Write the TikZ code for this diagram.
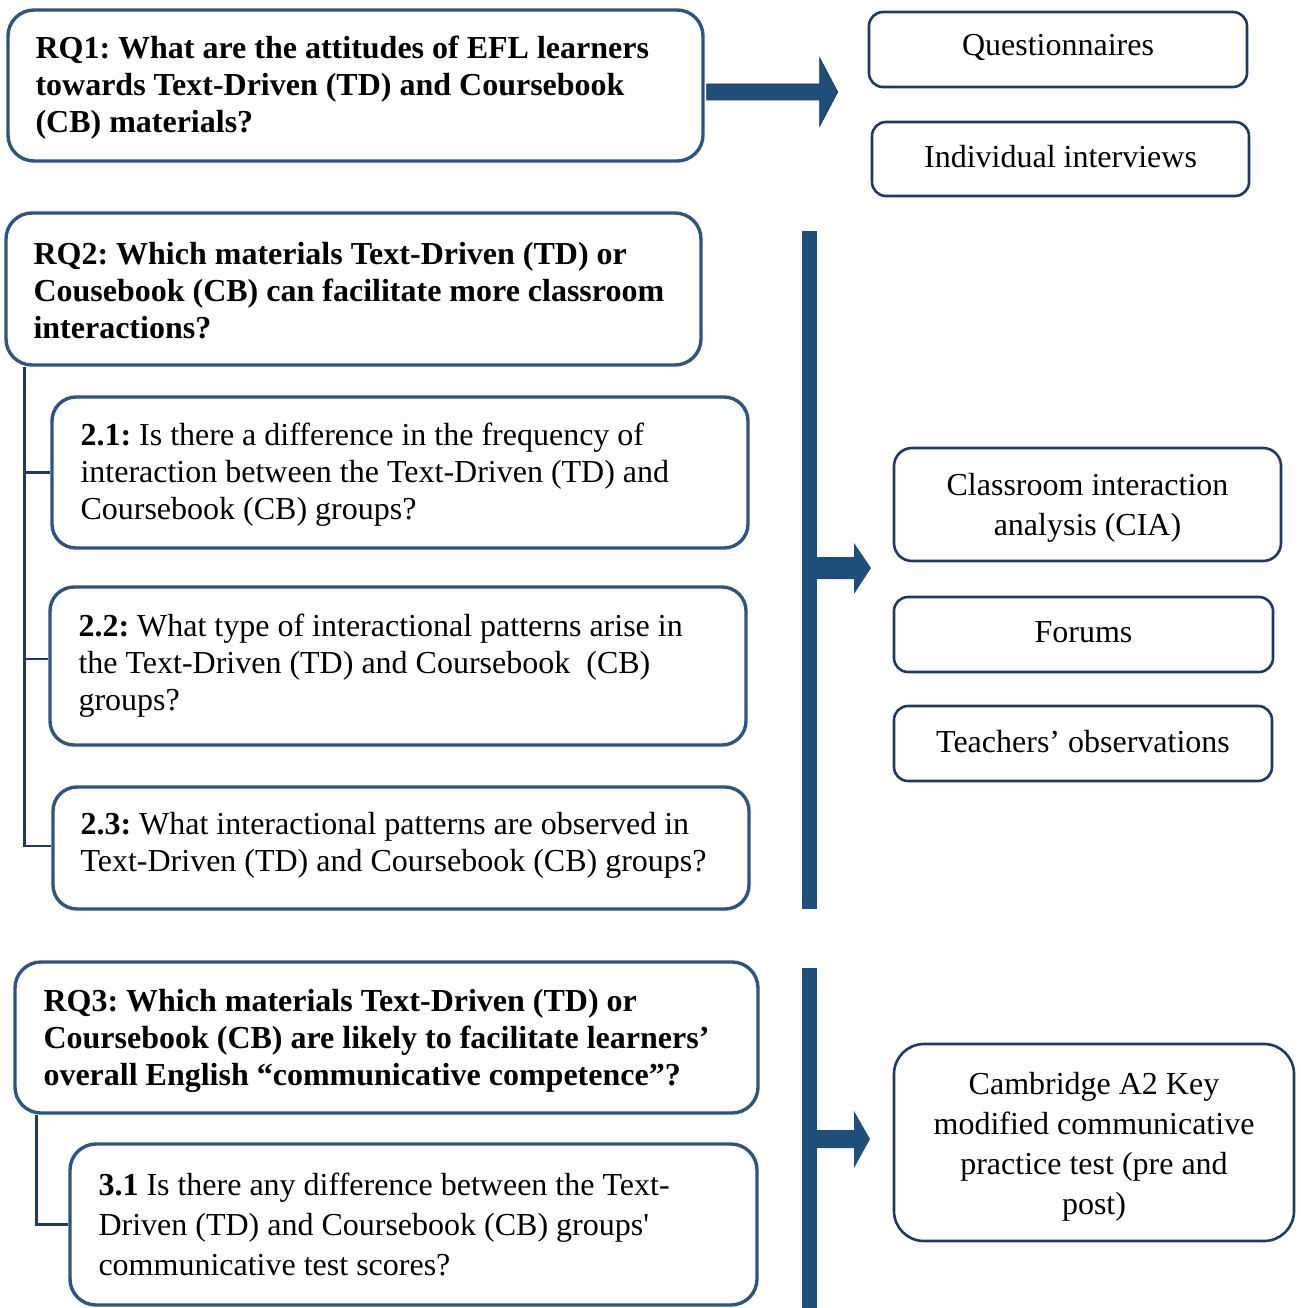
\documentclass[tikz,border=0pt]{standalone}
\usepackage{fontspec}
\setmainfont{Liberation Serif}
\usetikzlibrary{calc}
\frenchspacing
\definecolor{boxline}{RGB}{46,84,130}
\definecolor{thinline}{RGB}{32,56,100}
\definecolor{arrowfill}{RGB}{31,78,121}
\definecolor{arrowedge}{RGB}{26,58,96}
\tikzset{
  qbox/.style={draw=boxline, line width=3.4pt, rounded corners=26pt, inner sep=0pt},
  mbox/.style={draw=thinline, line width=2.6pt, rounded corners=14pt, inner sep=0pt},
  mtext/.style={inner sep=0pt, font=\fontsize{32}{40}\selectfont, align=center},
  qtext/.style={anchor=west, inner sep=0pt, align=left, font=\fontsize{32}{37}\selectfont},
  tree/.style={draw=thinline, line width=2.6pt},
  bigarrow/.style={fill=arrowfill, draw=arrowedge, line width=0.8pt},
  bar/.style={fill=arrowfill},
}
\begin{document}
\begin{tikzpicture}[x=1pt,y=-1pt]
\useasboundingbox (0,0) rectangle (1300,1308);

% research question boxes
\node[qbox, minimum width=695pt, minimum height=151pt] (rq1) at (355.5,85.5) {};
\node[qtext] (rq1t) at ($(rq1.west)+(29,2.5)$) {\bfseries RQ1: What are the attitudes of EFL learners\\\bfseries towards Text-Driven (TD) and Coursebook\\\bfseries (CB) materials?};

\node[qbox, minimum width=695pt, minimum height=152pt] (rq2) at (353.5,289) {};
\node[qtext] (rq2t) at ($(rq2.west)+(29,2)$) {\bfseries RQ2: Which materials Text-Driven (TD) or\\\bfseries Cousebook (CB) can facilitate more classroom\\\bfseries interactions?};

\node[qbox, rounded corners=24pt, minimum width=696pt, minimum height=151pt] (b21) at (400,472.5) {};
\node[qtext] (b21t) at ($(b21.west)+(30,2.5)$) {\textbf{2.1:} Is there a difference in the frequency of\\interaction between the Text-Driven (TD) and\\Coursebook (CB) groups?};

\node[qbox, rounded corners=24pt, minimum width=696pt, minimum height=158pt] (b22) at (398,666) {};
\node[qtext] (b22t) at ($(b22.west)+(30,0)$) {\textbf{2.2:} What type of interactional patterns arise in\\the Text-Driven (TD) and Coursebook\ \ (CB)\\groups?};

\node[qbox, rounded corners=24pt, minimum width=696pt, minimum height=122pt] (b23) at (401,848) {};
\node[qtext] (b23t) at ($(b23.west)+(29,-3)$) {\textbf{2.3:} What interactional patterns are observed in\\Text-Driven (TD) and Coursebook (CB) groups?};

\node[qbox, minimum width=743pt, minimum height=151pt] (rq3) at (386.5,1037.5) {};
\node[qtext] (rq3t) at ($(rq3.west)+(30,3)$) {\bfseries RQ3: Which materials Text-Driven (TD) or\\\bfseries Coursebook (CB) are likely to facilitate learners’\\\bfseries overall English “communicative competence”?};

\node[qbox, minimum width=687pt, minimum height=161pt] (b31) at (413.5,1224.5) {};
\node[qtext, font=\fontsize{32}{40}\selectfont] (b31t) at ($(b31.west)+(30,-0.5)$) {\textbf{3.1} Is there any difference between the Text-\\Driven (TD) and Coursebook (CB) groups\textquotesingle\\communicative test scores?};

% sub-question branches
\draw[tree] ($(rq2.south west)+(20,0)$) |- (b21.west);
\draw[tree] ($(rq2.south west)+(20,0)$) |- ($(b22.west)+(0,-7)$);
\draw[tree] ($(rq2.south west)+(20,0)$) |- ($(b23.west)+(0,-2)$);
\draw[tree] ($(rq3.south west)+(23,0)$) |- (b31.west);

% data collection instruments
\node[mbox, minimum width=378pt, minimum height=75pt] (quest) at (1058,49.5) {};
\node[mtext] (questt) at ($(quest)+(0,-1.5)$) {Questionnaires};
\node[mbox, minimum width=377pt, minimum height=74pt] (interv) at (1060.5,159) {};
\node[mtext] (intervt) at ($(interv)+(0,-2.5)$) {Individual interviews};
\node[mbox, rounded corners=18pt, minimum width=387pt, minimum height=113pt] (cia) at (1087.5,504.5) {};
\node[mtext] (ciat) at ($(cia)+(0,3)$) {Classroom interaction\\analysis (CIA)};
\node[mbox, minimum width=379pt, minimum height=75pt] (forum) at (1083.5,634.5) {};
\node[mtext] (forumt) at ($(forum)+(0,-2)$) {Forums};
\node[mbox, minimum width=378pt, minimum height=75pt] (tobs) at (1083,743.5) {};
\node[mtext] (tobst) at ($(tobs)+(0,-2)$) {Teachers’ observations};
\node[mbox, rounded corners=30pt, minimum width=400pt, minimum height=197pt] (camb) at (1094,1142.5) {};
\node[mtext] (cambt) at ($(camb)+(0,4.5)$) {Cambridge A2 Key\\modified communicative\\practice test (pre and\\post)};

% block arrow from RQ1
\coordinate (a1) at ($(rq1.east)+(2,6.5)$);
\draw[bigarrow] ($(a1)+(0,-8)$) -- ++(113,0) -- ++(0,-26) -- ($(a1)+(131,0)$)
  -- ($(a1)+(113,34)$) -- ++(0,-26) -- ($(a1)+(0,8)$) -- cycle;

% bracket bars with arrows
\fill[bar] (802,231) rectangle (817,909);
\coordinate (a2) at (816,568);
\fill[bar] ($(a2)+(0,-11)$) -- ++(38,0) -- ++(0,-14) -- ($(a2)+(55,0)$)
  -- ($(a2)+(38,26)$) -- ++(0,-15) -- ($(a2)+(0,11)$) -- cycle;

\fill[bar] (802,968) rectangle (817,1310);
\coordinate (a3) at (816,1139);
\fill[bar] ($(a3)+(0,-9)$) -- ++(38,0) -- ++(0,-19) -- ($(a3)+(54,0)$)
  -- ($(a3)+(38,29)$) -- ++(0,-20) -- ($(a3)+(0,9)$) -- cycle;
\end{tikzpicture}
\end{document}
